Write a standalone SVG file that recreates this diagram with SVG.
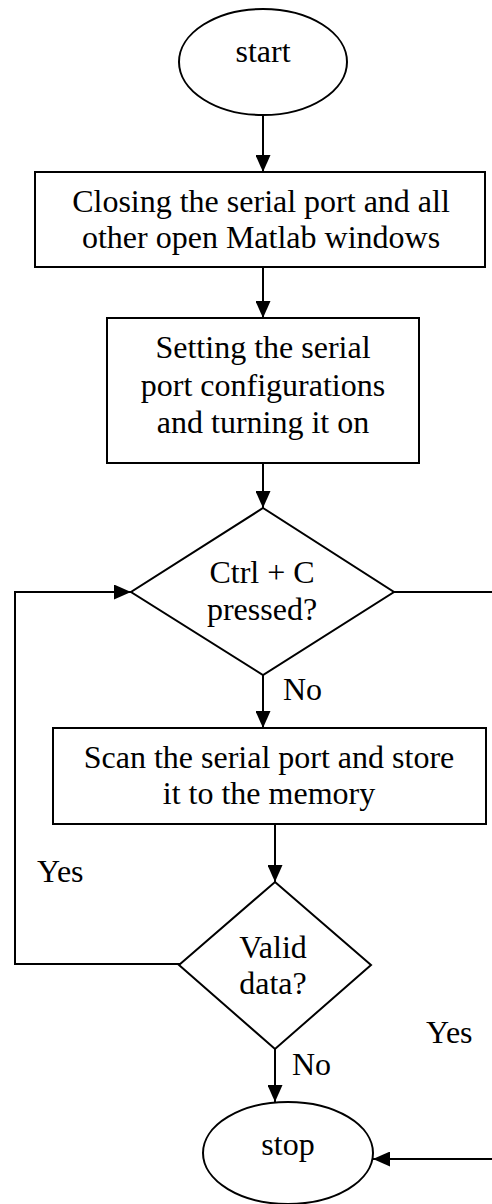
<svg xmlns="http://www.w3.org/2000/svg" width="492" height="1204" viewBox="0 0 492 1204">
<defs>
<style>
.shape{fill:#fff;stroke:#000;stroke-width:2}
.ln{fill:none;stroke:#000;stroke-width:2}
.arr{marker-end:url(#ah)}
text{font-family:"Liberation Serif","Times New Roman",serif;font-size:32px;fill:#000}
.c{text-anchor:middle}
</style>
<marker id="ah" markerUnits="userSpaceOnUse" markerWidth="17" markerHeight="15" refX="17" refY="7.5" orient="auto">
<path d="M0,0 L17,7.5 L0,15 z" fill="#000"/>
</marker>
</defs>
<rect width="492" height="1204" fill="#fff"/>
<g id="connectors">
<path class="ln arr" d="M263,115 V172"/>
<path class="ln arr" d="M263,267 V318"/>
<path class="ln arr" d="M263,463 V508"/>
<path class="ln arr" d="M263,675 V728"/>
<path class="ln arr" d="M275,824 V882"/>
<path class="ln arr" d="M275,1049 V1102"/>
<path class="ln arr" d="M180,964 H15 V592 H131"/>
<path class="ln" d="M394,592 H492"/>
<path class="ln arr" d="M492,1159 H373"/>
<text x="283" y="700">No</text>
<text x="37" y="882">Yes</text>
<text x="426" y="1043">Yes</text>
<text x="292" y="1075">No</text>
</g>
<g id="start">
<ellipse class="shape" cx="263" cy="62" rx="84" ry="53"/>
<text class="c" x="263" y="62">start</text>
</g>
<g id="close">
<rect class="shape" x="35" y="172" width="450" height="95"/>
<text class="c" x="261" y="212">Closing the serial port and all</text>
<text class="c" x="261" y="248">other open Matlab windows</text>
</g>
<g id="setup">
<rect class="shape" x="107" y="318" width="312" height="145"/>
<text class="c" x="263" y="358">Setting the serial</text>
<text class="c" x="263" y="396">port configurations</text>
<text class="c" x="263" y="433">and turning it on</text>
</g>
<g id="ctrlc">
<polygon class="shape" points="263,508 394,592 263,675 131,592"/>
<text class="c" x="262" y="583">Ctrl + C</text>
<text class="c" x="262" y="620">pressed?</text>
</g>
<g id="scan">
<rect class="shape" x="53" y="728" width="433" height="96"/>
<text class="c" x="269" y="768">Scan the serial port and store</text>
<text class="c" x="269" y="804">it to the memory</text>
</g>
<g id="valid">
<polygon class="shape" points="275,882 371,965 275,1049 179,965"/>
<text class="c" x="273" y="958">Valid</text>
<text class="c" x="273" y="994">data?</text>
</g>
<g id="stop">
<ellipse class="shape" cx="288" cy="1153" rx="85" ry="51"/>
<text class="c" x="288" y="1155">stop</text>
</g>
</svg>
